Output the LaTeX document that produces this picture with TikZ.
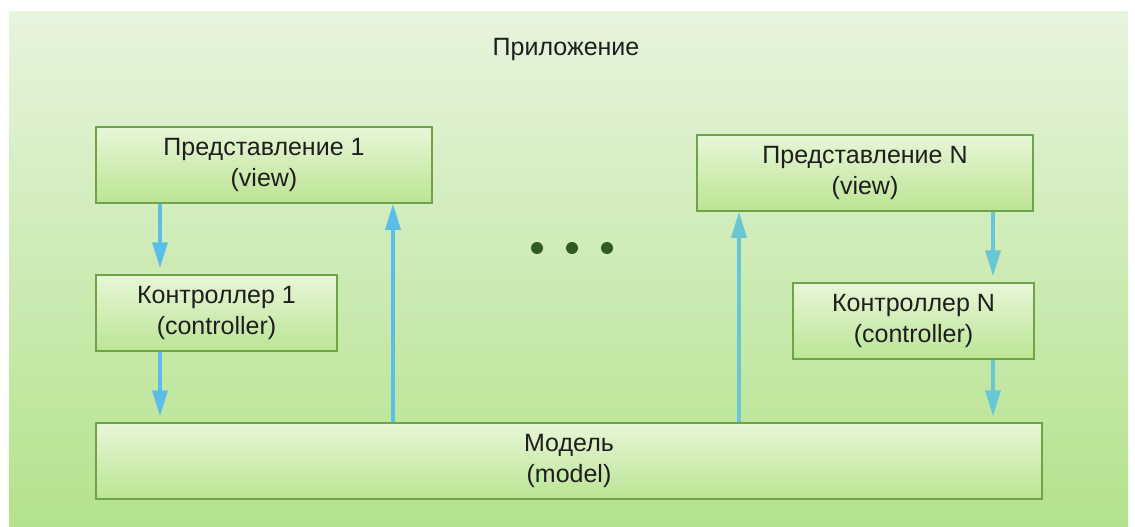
\documentclass[tikz,border=0pt]{standalone}
\usepackage{fontspec}
\setmainfont{Liberation Sans}
\usetikzlibrary{arrows.meta}
\definecolor{bgtop}{HTML}{E6F4DD}
\definecolor{bgbot}{HTML}{B4E28C}
\definecolor{boxtop}{HTML}{E7F7D7}
\definecolor{boxbot}{HTML}{BCE495}
\definecolor{boxline}{HTML}{6EA348}
\definecolor{arrowblue}{HTML}{5CBEE8}
\definecolor{arrowteal}{HTML}{68C7D3}
\definecolor{dotgreen}{HTML}{2F5C22}
\definecolor{txt}{HTML}{1E1E1E}
\tikzset{
  label font/.style={text=txt, font=\fontsize{25}{31}\selectfont},
  box/.style={draw=boxline, line width=1.5pt, top color=boxtop, bottom color=boxbot,
    rectangle, inner sep=0pt, align=center, label font},
  flow/.style={line width=3.6pt, -{Triangle[width=15pt,length=26pt]}},
}
\begin{document}
\begin{tikzpicture}[x=1pt,y=-1pt]
  \useasboundingbox (0,0) rectangle (1135,527);
  \fill[white] (0,0) rectangle (1135,527);
  % application area
  \shade[top color=bgtop, bottom color=bgbot] (9,12) rectangle (1128,527);
  \node[label font] (app) at (566,49) {Приложение};

  % views, controllers and the model
  \node[box, minimum width=336pt, minimum height=76pt] (v1) at (264,165)
    {Представление 1\\(view)};
  \node[box, minimum width=241pt, minimum height=76pt] (c1) at (216.5,313)
    {Контроллер 1\\(controller)};
  \node[box, minimum width=336pt, minimum height=76pt] (vn) at (865,173)
    {Представление N\\(view)};
  \node[box, minimum width=241pt, minimum height=76pt] (cn) at (913.5,321)
    {Контроллер N\\(controller)};
  \node[box, minimum width=946pt, minimum height=76pt] (m) at (569,461)
    {Модель\\(model)};

  % ellipsis between the two groups
  \foreach \x/\n in {537/d1, 572/d2, 607/d3}
    \fill[dotgreen] (\x,248) circle (6pt) coordinate (\n);

  % columns of the connectors
  \coordinate (colA) at (160,0);
  \coordinate (colB) at (393,0);
  \coordinate (colC) at (739,0);
  \coordinate (colD) at (993,0);

  \draw[flow, arrowblue, shorten >=6pt] (v1.south -| colA) -- (c1.north -| colA);
  \draw[flow, arrowblue, shorten >=6pt] (c1.south -| colA) -- (m.north -| colA);
  \draw[flow, arrowblue] (m.north -| colB) -- (v1.south -| colB);
  \draw[flow, arrowteal] (m.north -| colC) -- (vn.south -| colC);
  \draw[flow, arrowteal, shorten >=6pt] (vn.south -| colD) -- (cn.north -| colD);
  \draw[flow, arrowteal, shorten >=6pt] (cn.south -| colD) -- (m.north -| colD);
\end{tikzpicture}
\end{document}
